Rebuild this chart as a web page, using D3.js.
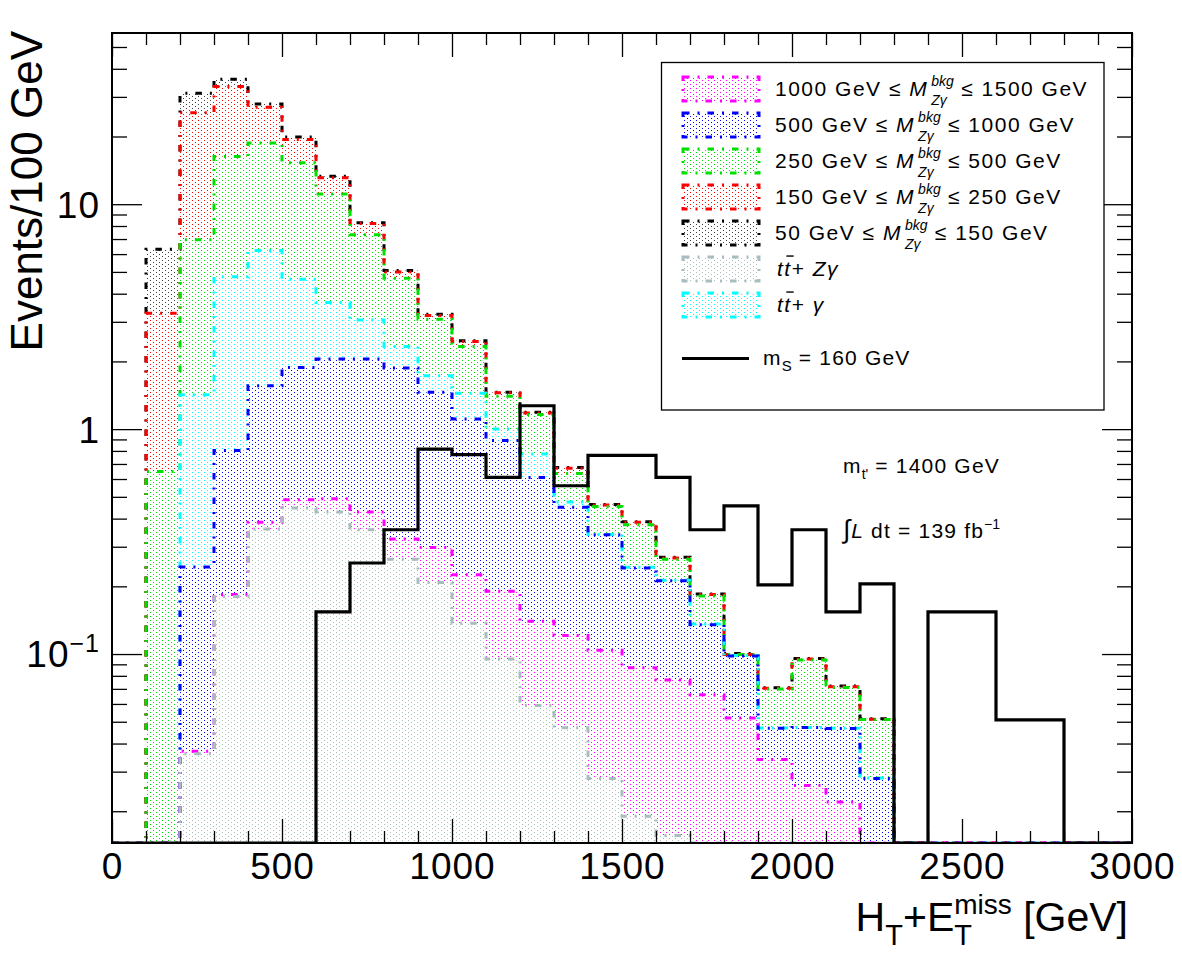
<!DOCTYPE html>
<html>
<head>
<meta charset="utf-8">
<script src="https://cdn.jsdelivr.net/npm/d3@7"></script>
<style>
  body { margin: 0; background: #fff; }
  svg { font-family: "Liberation Sans", Arial, Helvetica, sans-serif; }
  text { white-space: pre; }
</style>
</head>
<body>
<svg id="chart" width="1182" height="955"></svg>
<script>
// bins of 100 GeV, lower edges
const binLow = d3.range(0, 3000, 100);

// background yields per bin (stack order bottom -> top)
const ttZgamma = [0, 0, 0.036, 0.18, 0.36, 0.446, 0.428, 0.357, 0.264, 0.208, 0.137, 0.095, 0.059, 0.047, 0.028,
  0.019, 0.0156, 0.012, 0.006, 0.004, 0.003, 0.002, 0.001, 0, 0, 0, 0, 0, 0, 0];
const mzg1000 = [0, 0, 0.001, 0.004, 0.025, 0.039, 0.062, 0.071, 0.061, 0.090, 0.088, 0.095, 0.081, 0.074, 0.076,
  0.068, 0.061, 0.054, 0.046, 0.030, 0.023, 0.020, 0.011, 0, 0, 0, 0, 0, 0, 0];
const mzg500 = [0, 0, 0.207, 0.62, 1.175, 1.395, 1.56, 1.62, 1.545, 1.16, 0.885, 0.70, 0.47, 0.328, 0.235,
  0.154, 0.135, 0.069, 0.046, 0.0128, 0.0211, 0.0247, 0.016, 0, 0, 0, 0, 0, 0, 0];
const ttgamma = [0, 0, 1.177, 3.956, 4.66, 2.76, 1.61, 1.01, 0.46, 0.27, 0.335, 0.11, 0.166, 0.025, 0.001,
  0.002, 0.001, 0.001, 0.0005, 0.0001, 0.0001, 0.0001, 0.0001, 0, 0, 0, 0, 0, 0, 0];
const mzg250 = [0, 0.648, 5.52, 11.54, 12.48, 10.66, 7.44, 4.26, 2.36, 1.35, 0.885, 0.40, 0.384, 0.161, 0.113,
  0.133, 0.051, 0.045, 0.001, 0.023, 0.047, 0.0242, 0.023, 0, 0, 0, 0, 0, 0, 0];
const mzg150 = [0, 2.63, 18.56, 17.1, 8.3, 4.1, 2.0, 0.88, 0.31, 0.12, 0.12, 0.05, 0.02, 0.035, 0.007,
  0.009, 0.004, 0.003, 0, 0.0005, 0.0008, 0.0006, 0.0002, 0, 0, 0, 0, 0, 0, 0];
const mzg50 = [0, 3.02, 5.6, 2.5, 0.9, 0.5, 0.2, 0.08, 0.07, 0.04, 0.02, 0.01, 0.01, 0.005, 0.002,
  0.002, 0.002, 0.001, 0.001, 0.0005, 0.0005, 0.0005, 0.0003, 0, 0, 0, 0, 0, 0, 0];

// signal m_S = 160 GeV
const signal = [0, 0, 0, 0, 0, 0, 0.154, 0.254, 0.357, 0.815, 0.77, 0.61, 1.27, 0.56, 0.764,
  0.764, 0.61, 0.357, 0.456, 0.203, 0.357, 0.154, 0.205, 0, 0.154, 0.154, 0.051, 0.051, 0, 0];

const xTickLabels = [0, 500, 1000, 1500, 2000, 2500, 3000];
const yTickLabels = [0.1, 1, 10];

const stackKeys = ['ttZgamma', 'mzg1000', 'mzg500', 'ttgamma', 'mzg250', 'mzg150', 'mzg50'];
const series = { ttZgamma, mzg1000, mzg500, ttgamma, mzg250, mzg150, mzg50 };
const colors = {
  ttZgamma: '#a8bdbd', mzg1000: '#ff00ff', mzg500: '#0000ff', ttgamma: '#00ffff',
  mzg250: '#00e000', mzg150: '#ff0000', mzg50: '#000000'
};

// legend order as in the figure
const legendRanges = [
  { key: 'mzg1000', lo: '1000', hi: '1500' },
  { key: 'mzg500', lo: '500', hi: '1000' },
  { key: 'mzg250', lo: '250', hi: '500' },
  { key: 'mzg150', lo: '150', hi: '250' },
  { key: 'mzg50', lo: '50', hi: '150' }
];
const legendTT = [
  { key: 'ttZgamma', extra: 'Zγ' },
  { key: 'ttgamma', extra: 'γ' }
];

const plot = { left: 112, right: 1132, top: 33, bottom: 843 };
const dashDot = '6.5 8 2 8';

const svg = d3.select('#chart');
svg.append('rect').attr('width', 1182).attr('height', 955).attr('fill', '#fff');

const x = d3.scaleLinear().domain([0, 3000]).range([plot.left, plot.right]);
const y = d3.scaleLog().domain([0.01445, 57.7]).range([plot.bottom, plot.top]).clamp(true);
const yv = v => y(Math.max(v, 1e-6));

// dotted fill patterns (ROOT-like hatch)
const defs = svg.append('defs');
stackKeys.forEach(k => {
  const p = defs.append('pattern').attr('id', 'pat-' + k)
      .attr('patternUnits', 'userSpaceOnUse').attr('width', 6).attr('height', 4);
  [[0, 0], [3, 2]].forEach(([px, py]) => {
    p.append('rect').attr('x', px).attr('y', py).attr('width', 1).attr('height', 1)
        .attr('fill', colors[k]).attr('fill-opacity', k === 'mzg50' ? 0.75 : 1);
  });
});
defs.append('clipPath').attr('id', 'plotClip').append('rect')
    .attr('x', plot.left).attr('y', plot.top)
    .attr('width', plot.right - plot.left).attr('height', plot.bottom - plot.top);

const rows = binLow.map((lo, i) => {
  const r = { lo };
  stackKeys.forEach(k => r[k] = series[k][i]);
  return r;
});
const stacked = d3.stack().keys(stackKeys)(rows);

const chart = svg.append('g').attr('clip-path', 'url(#plotClip)');

// band fills
const area = d3.area().x(d => x(d.x)).y0(d => yv(d.y0)).y1(d => yv(d.y1));
stacked.forEach(layer => {
  const pts = [];
  layer.forEach(d => {
    pts.push({ x: d.data.lo, y0: d[0], y1: d[1] });
    pts.push({ x: d.data.lo + 100, y0: d[0], y1: d[1] });
  });
  chart.append('path').attr('d', area(pts)).attr('fill', `url(#pat-${layer.key})`);
});

// histogram contour as a step line
const line = d3.line().x(d => x(d.x)).y(d => yv(d.v));
function stepPoints(vals) {
  const pts = [{ x: 0, v: 0 }];
  vals.forEach((v, i) => {
    pts.push({ x: binLow[i], v });
    pts.push({ x: binLow[i] + 100, v });
  });
  pts.push({ x: 3000, v: 0 });
  return pts;
}

// outlines drawn from the top of the stack down
stacked.slice().reverse().forEach(layer => {
  chart.append('path')
      .attr('d', line(stepPoints(layer.map(d => d[1]))))
      .attr('fill', 'none')
      .attr('stroke', colors[layer.key])
      .attr('stroke-width', 3)
      .attr('stroke-dasharray', dashDot);
});

chart.append('path')
    .attr('d', line(stepPoints(signal)))
    .attr('fill', 'none').attr('stroke', '#000').attr('stroke-width', 3.2)
    .attr('stroke-linejoin', 'miter');

// axes: ticks inward on all four sides
const xMinor = d3.range(0, 3001, 100).filter(v => v % 500 !== 0);
const yMinor = [];
[0.01, 0.1, 1, 10].forEach(dec => d3.range(2, 10).forEach(m => {
  const v = dec * m;
  if (v > 0.01445 && v < 57.7) yMinor.push(v);
}));

function styleAxis(g) {
  g.select('.domain').remove();
  g.selectAll('line').attr('stroke', '#000').attr('stroke-width', 1.3);
}

svg.append('g').attr('transform', `translate(0,${plot.bottom})`)
    .call(d3.axisBottom(x).tickValues(xTickLabels).tickSize(-24).tickPadding(10).tickFormat(d3.format('d')))
    .call(styleAxis)
    .call(g => g.selectAll('text').attr('fill', '#000').style('font-size', '37px')
        .style('letter-spacing', '1px').style('font-family', null));
svg.append('g').attr('transform', `translate(0,${plot.bottom})`)
    .call(d3.axisBottom(x).tickValues(xMinor).tickSize(-12).tickFormat(''))
    .call(styleAxis);
svg.append('g').attr('transform', `translate(0,${plot.top})`)
    .call(d3.axisTop(x).tickValues(xTickLabels).tickSize(-24).tickFormat(''))
    .call(styleAxis);
svg.append('g').attr('transform', `translate(0,${plot.top})`)
    .call(d3.axisTop(x).tickValues(xMinor).tickSize(-12).tickFormat(''))
    .call(styleAxis);

svg.append('g').attr('transform', `translate(${plot.left},0)`)
    .call(d3.axisLeft(y).tickValues(yTickLabels).tickSize(-30).tickPadding(12)
        .tickFormat(d => d === 0.1 ? '10' : String(d)))
    .call(styleAxis)
    .call(g => g.selectAll('text').attr('fill', '#000').style('font-size', '37px')
        .style('letter-spacing', '1px').style('font-family', null).attr('dy', '0.35em'))
    .call(g => g.selectAll('.tick').filter(d => d === 0.1).select('text')
        .append('tspan').attr('dy', -15).style('font-size', '25px').text('−1'));
svg.append('g').attr('transform', `translate(${plot.left},0)`)
    .call(d3.axisLeft(y).tickValues(yMinor).tickSize(-15).tickFormat(''))
    .call(styleAxis);
svg.append('g').attr('transform', `translate(${plot.right},0)`)
    .call(d3.axisRight(y).tickValues(yTickLabels).tickSize(-30).tickFormat(''))
    .call(styleAxis);
svg.append('g').attr('transform', `translate(${plot.right},0)`)
    .call(d3.axisRight(y).tickValues(yMinor).tickSize(-15).tickFormat(''))
    .call(styleAxis);

svg.append('rect')
    .attr('x', plot.left).attr('y', plot.top)
    .attr('width', plot.right - plot.left).attr('height', plot.bottom - plot.top)
    .attr('fill', 'none').attr('stroke', '#000').attr('stroke-width', 2);

// rich text: pieces laid out one after another, "stack" puts a subscript under the previous superscript
function richText(parent, x0, y0, parts, base, spacing) {
  const g = parent.append('g');
  let cx = x0, prevStart = x0;
  parts.forEach(p => {
    const size = p.size || base;
    const px = (p.stack ? prevStart : cx) + (p.dx || 0);
    const t = g.append('text')
        .attr('x', px).attr('y', y0 + (p.dy || 0))
        .style('font-size', size + 'px')
        .style('font-style', p.it ? 'italic' : 'normal')
        .style('letter-spacing', (p.size ? 0 : spacing) + 'px')
        .attr('fill', '#000')
        .text(p.t);
    const w = t.node().getComputedTextLength();
    if (p.bar) {
      g.append('line').attr('x1', px + 2).attr('x2', px + w + 2)
          .attr('y1', y0 - size * 0.95).attr('y2', y0 - size * 0.95)
          .attr('stroke', '#000').attr('stroke-width', 1.4);
    }
    if (p.stack) {
      cx = Math.max(cx, px + w);
    } else {
      prevStart = px;
      cx = px + w;
    }
  });
  return g;
}

// axis titles
const xTitle = richText(svg, 0, 931, [
  { t: 'H' }, { t: 'T', size: 29, dy: 14 }, { t: '+E' },
  { t: 'miss', size: 28, dy: -17 }, { t: 'T', size: 29, dy: 14, stack: true },
  { t: ' [GeV]' }
], 41, 0);
const xw = xTitle.node().getBBox();
xTitle.attr('transform', `translate(${1128 - xw.x - xw.width},0)`);

svg.append('text')
    .attr('transform', 'translate(42,31) rotate(-90)')
    .attr('text-anchor', 'end')
    .style('font-size', '44px').attr('fill', '#000')
    .text('Events/100 GeV');

// legend
const legend = svg.append('g');
legend.append('rect')
    .attr('x', 661.5).attr('y', 62.5).attr('width', 442.5).attr('height', 347.5)
    .attr('fill', '#fff').attr('stroke', '#000').attr('stroke-width', 1.3);

const rowY = i => 89 + i * 36;
function swatch(i, key) {
  legend.append('rect')
      .attr('x', 683).attr('y', rowY(i) - 12).attr('width', 76).attr('height', 24)
      .attr('fill', `url(#pat-${key})`)
      .attr('stroke', colors[key]).attr('stroke-width', 3).attr('stroke-dasharray', dashDot);
}
legendRanges.forEach((e, i) => {
  swatch(i, e.key);
  richText(legend, 775, rowY(i) + 7, [
    { t: `${e.lo} GeV ≤ ` }, { t: 'M', it: true },
    { t: 'bkg', it: true, size: 14, dy: -10, dx: 3 },
    { t: 'Zγ', it: true, size: 14, dy: 9, stack: true },
    { t: ` ≤ ${e.hi} GeV` }
  ], 21, 1.5);
});
legendTT.forEach((e, j) => {
  const i = legendRanges.length + j;
  swatch(i, e.key);
  richText(legend, 777, rowY(i) + 7, [
    { t: 't', it: true }, { t: 't', it: true, bar: true }, { t: '+ ' },
    { t: e.extra, it: true }
  ], 21, 1.5);
});
legend.append('line')
    .attr('x1', 682).attr('x2', 749).attr('y1', 358.5).attr('y2', 358.5)
    .attr('stroke', '#000').attr('stroke-width', 3.2);
richText(legend, 763, 365, [
  { t: 'm' }, { t: 'S', size: 15, dy: 6 }, { t: ' = 160 GeV' }
], 21, 1.2);

// annotations
richText(svg, 843, 473, [
  { t: 'm' }, { t: "t'", size: 14, dy: 6 }, { t: ' = 1400 GeV' }
], 21, 1.2);
richText(svg, 843, 538, [
  { t: '∫', size: 26, dx: 0 }, { t: 'L', it: true, dx: 1 }, { t: ' dt = 139 fb' },
  { t: '−1', size: 14, dy: -9 }
], 21, 1.2);
</script>
</body>
</html>
